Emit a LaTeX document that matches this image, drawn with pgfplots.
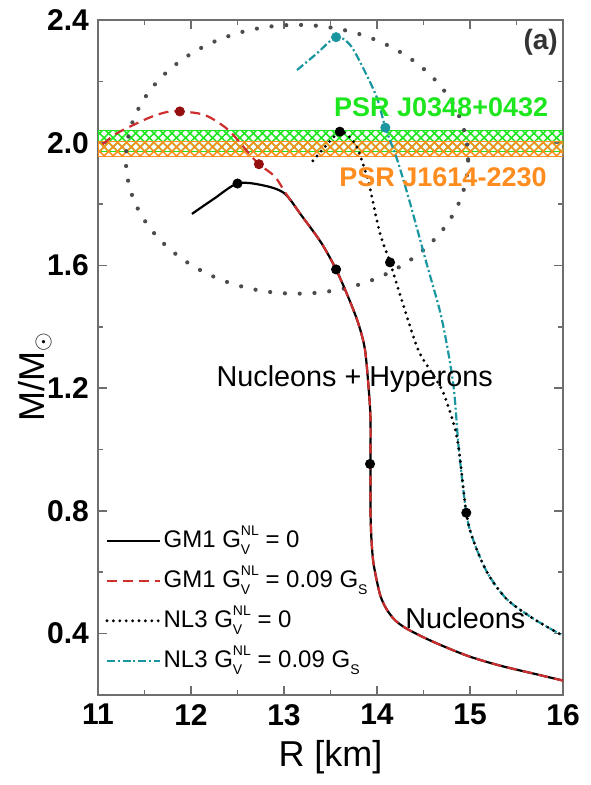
\documentclass[border=0pt]{standalone}
\usepackage{fontspec}
\setmainfont{Liberation Sans}
\usepackage{pgfplots}
\pgfplotsset{compat=1.18}
\usetikzlibrary{patterns.meta}

\definecolor{gmred}{RGB}{205,45,45}
\definecolor{gmreddot}{RGB}{150,15,15}
\definecolor{nlcyan}{RGB}{25,150,160}
\definecolor{psrgreen}{RGB}{30,230,30}
\definecolor{psrorange}{RGB}{255,140,30}
\definecolor{framegray}{RGB}{110,110,110}

% G_V^NL and G_S with stacked sub/superscripts in the text font
\newcommand\GVNL{G\makebox[0pt][l]{\raisebox{-0.55ex}{\fontsize{7}{7}\selectfont V}}\raisebox{0.95ex}{\fontsize{7}{7}\selectfont NL}}
\newcommand\GS{G\raisebox{-0.55ex}{\fontsize{7}{7}\selectfont S}}

\begin{document}
\begin{tikzpicture}
\begin{axis}[
  scale only axis,
  width=232.5pt, height=337.5pt,
  xmin=11, xmax=16, ymin=0.2, ymax=2.4,
  xtick={11,12,13,14,15,16},
  ytick={0.4,0.8,1.2,1.6,2.0,2.4},
  minor x tick num=1, minor y tick num=1,
  tick align=inside,
  major tick length=4.5pt, minor tick length=2.5pt,
  every tick/.style={framegray, line width=0.8pt},
  axis line style={framegray, line width=1.2pt},
  /pgf/number format/assume math mode=true,
  tick label style={font=\fontsize{15}{15}\selectfont\bfseries},
  yticklabel style={xshift=-1pt, /pgf/number format/.cd, fixed, fixed zerofill, precision=1},
  xticklabel style={yshift=-1pt},
  legend cell align=left,
  legend style={at={(rel axis cs:0,0.0226)}, anchor=south west, xshift=0.5pt,
    draw=none, fill=none,
    font=\fontsize{12}{12}\selectfont, row sep=5.5pt,
    nodes={inner sep=1pt, text height=9.5pt, text depth=3pt}},
  legend image code/.code={\draw[#1] (0pt,0pt) -- (26.5pt,0pt);},
  clip=true,
]

% observational mass bands
\addplot[draw=psrgreen, line width=0.5pt,
  pattern={Lines[angle=45,distance=3.2pt,line width=0.8pt]}, pattern color=psrgreen, forget plot]
  coordinates {(11,1.97) (16,1.97) (16,2.04) (11,2.04)} -- cycle;
\addplot[draw=psrgreen, line width=0.5pt,
  pattern={Lines[angle=-45,distance=3.2pt,line width=0.8pt]}, pattern color=psrgreen, forget plot]
  coordinates {(11,1.97) (16,1.97) (16,2.04) (11,2.04)} -- cycle;
\addplot[draw=psrorange, line width=0.5pt,
  pattern={Lines[angle=45,distance=3.2pt,line width=0.8pt]}, pattern color=psrorange, forget plot]
  coordinates {(11,1.955) (16,1.955) (16,2.003) (11,2.003)} -- cycle;
\addplot[draw=psrorange, line width=0.5pt,
  pattern={Lines[angle=-45,distance=3.2pt,line width=0.8pt]}, pattern color=psrorange, forget plot]
  coordinates {(11,1.955) (16,1.955) (16,2.003) (11,2.003)} -- cycle;

% hyperon region outline
\draw[black!70, line width=2.1pt, line cap=round, dash pattern=on 0pt off 7.4pt]
  (axis cs:13.14,1.946) ellipse [x radius=1.84, y radius=0.438];

% GM1, G_V^NL = 0
\addplot[black, line width=1.1pt, smooth, tension=0.5] coordinates {
 (12.01,1.768) (12.25,1.818) (12.50,1.867) (12.76,1.862) (13.00,1.836) (13.19,1.762)
 (13.40,1.674) (13.56,1.587) (13.70,1.49) (13.80,1.41) (13.87,1.327) (13.91,1.20)
 (13.93,1.10) (13.93,0.953) (13.93,0.80) (13.94,0.709) (13.96,0.634) (14.00,0.569)
 (14.04,0.52) (14.10,0.481) (14.19,0.445) (14.32,0.416) (14.60,0.374) (14.97,0.328)
 (15.32,0.296) (15.68,0.270) (16.00,0.247)};
\addlegendentry{GM1 \GVNL{} = 0}

% GM1, G_V^NL = 0.09 G_S
\addplot[gmred, line width=1.1pt, smooth, tension=0.5, dash pattern=on 5pt off 3pt] coordinates {
 (11.05,1.995) (11.20,2.03) (11.43,2.065) (11.58,2.085) (11.74,2.10) (11.88,2.102)
 (12.15,2.09) (12.40,2.042) (12.61,1.97) (12.73,1.93) (12.90,1.89) (13.03,1.83) (13.19,1.762)
 (13.40,1.674) (13.56,1.587) (13.70,1.49) (13.80,1.41) (13.87,1.327) (13.91,1.20)
 (13.93,1.10) (13.93,0.953) (13.93,0.80) (13.94,0.709) (13.96,0.634) (14.00,0.569)
 (14.04,0.52) (14.10,0.481) (14.19,0.445) (14.32,0.416) (14.60,0.374) (14.97,0.328)
 (15.32,0.296) (15.68,0.270) (16.00,0.247)};
\addlegendentry{GM1 \GVNL{} = 0.09 \GS}

% NL3, G_V^NL = 0.09 G_S (drawn before the dotted NL3 curve, which runs on top of it)
\addplot[nlcyan, line width=1.1pt, smooth, tension=0.5, forget plot,
  dash pattern=on 4pt off 1.4pt on 1pt off 1.4pt] coordinates {
 (13.14,2.237) (13.35,2.29) (13.56,2.344) (13.71,2.319) (13.85,2.244) (14.00,2.146)
 (14.09,2.049) (14.21,1.951) (14.34,1.82) (14.53,1.61) (14.68,1.447) (14.77,1.31)
 (14.83,1.187) (14.88,1.002) (14.96,0.794) (15.03,0.709) (15.18,0.602) (15.39,0.514)
 (15.68,0.449) (16.00,0.393)};

% NL3, G_V^NL = 0
\addplot[black, line width=1.6pt, line cap=round, smooth, tension=0.5,
  dash pattern=on 0pt off 3.2pt] coordinates {
 (13.31,1.941) (13.45,1.99) (13.60,2.036) (13.70,2.02) (13.78,1.988) (13.85,1.93)
 (13.92,1.857) (14.03,1.707) (14.14,1.61) (14.32,1.435) (14.45,1.32) (14.60,1.245)
 (14.71,1.187) (14.82,1.089) (14.88,1.002) (14.96,0.794) (15.03,0.709) (15.18,0.602)
 (15.39,0.514) (15.68,0.449) (16.00,0.393)};
\addlegendentry{NL3 \GVNL{} = 0}

\addlegendimage{nlcyan, line width=1.1pt, dash pattern=on 4pt off 1.4pt on 1pt off 1.4pt}
\addlegendentry{NL3 \GVNL{} = 0.09 \GS}

% marked configurations
\addplot[only marks, mark=*, mark size=2.3pt, black, forget plot] coordinates {
 (12.50,1.867) (13.56,1.587) (13.925,0.953) (13.60,2.036) (14.14,1.61) (14.96,0.794)};
\addplot[only marks, mark=*, mark size=2.3pt, gmreddot, forget plot] coordinates {
 (11.88,2.102) (12.73,1.93)};
\addplot[only marks, mark=*, mark size=2.3pt, nlcyan, forget plot] coordinates {
 (13.56,2.344) (14.09,2.049)};

% annotations
\node[font=\fontsize{14}{14}\selectfont\bfseries, text=black!80] at (axis cs:15.76,2.328) {(a)};
\node[font=\fontsize{13.5}{13.5}\selectfont\bfseries, text=psrgreen] at (axis cs:14.69,2.117) {PSR J0348+0432};
\node[font=\fontsize{13.5}{13.5}\selectfont\bfseries, text=psrorange] at (axis cs:14.71,1.889) {PSR J1614-2230};
\node[font=\fontsize{14.4}{14.4}\selectfont] at (axis cs:13.76,1.229) {Nucleons + Hyperons};
\node[font=\fontsize{14.4}{14.4}\selectfont] at (axis cs:14.95,0.449) {Nucleons};
\end{axis}
% axis titles
\node[font=\fontsize{18}{18}\selectfont] at ([yshift=-31pt]current axis.south) {R [km]};
\node[font=\fontsize{18}{18}\selectfont, rotate=90] at ([shift={(-31.5pt,-9.75pt)}]current axis.west) {M/M$_\odot$};
\pgfresetboundingbox
\path[use as bounding box] ([shift={(-49pt,-45pt)}]current axis.south west)
  rectangle ([shift={(13.5pt,10pt)}]current axis.north east);
\end{tikzpicture}
\end{document}
